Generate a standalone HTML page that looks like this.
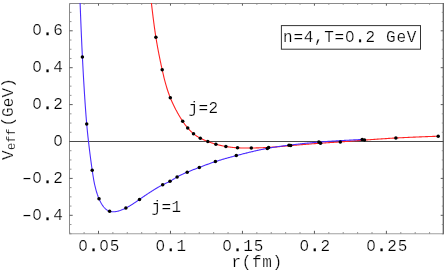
<!DOCTYPE html>
<html><head><meta charset="utf-8"><title>Veff plot</title>
<style>
html,body{margin:0;padding:0;background:#fff;}
body{width:444px;height:274px;overflow:hidden;position:relative;font-family:"Liberation Mono",monospace;}
</style></head><body>
<svg width="444" height="274" viewBox="0 0 444 274" style="position:absolute;left:0;top:0;will-change:transform">
<defs><filter id="g" x="0" y="0" width="444" height="274" filterUnits="userSpaceOnUse" color-interpolation-filters="sRGB"><feColorMatrix type="saturate" values="0"/></filter></defs>
<rect x="0" y="0" width="444" height="274" fill="#fff"/>
<path d="M69.5 233.8V3.5H443.3" stroke="#8a8a8a" stroke-width="1" fill="none"/>
<path d="M69.0 233.8H443.3" stroke="#a0a0a0" stroke-width="1.1" fill="none"/>
<path d="M443.3 3.0V234.3" stroke="#606060" stroke-width="1.3" fill="none"/>
<path d="M98.50 233.8v-3M98.50 3.5v2.2M170.48 233.8v-3M170.48 3.5v2.2M242.45 233.8v-3M242.45 3.5v2.2M314.43 233.8v-3M314.43 3.5v2.2M386.40 233.8v-3M386.40 3.5v2.2M69.5 215.30h3.2M443.3 215.30h-2.6M69.5 178.40h3.2M443.3 178.40h-2.6M69.5 141.50h3.2M443.3 141.50h-2.6M69.5 104.60h3.2M443.3 104.60h-2.6M69.5 67.70h3.2M443.3 67.70h-2.6M69.5 30.80h3.2M443.3 30.80h-2.6" stroke="#5a5a5a" stroke-width="1" fill="none"/>
<path d="M69.71 233.8v-1.8M69.71 3.5v1.3M84.10 233.8v-1.8M84.10 3.5v1.3M112.89 233.8v-1.8M112.89 3.5v1.3M127.29 233.8v-1.8M127.29 3.5v1.3M141.69 233.8v-1.8M141.69 3.5v1.3M156.08 233.8v-1.8M156.08 3.5v1.3M184.87 233.8v-1.8M184.87 3.5v1.3M199.26 233.8v-1.8M199.26 3.5v1.3M213.66 233.8v-1.8M213.66 3.5v1.3M228.06 233.8v-1.8M228.06 3.5v1.3M256.85 233.8v-1.8M256.85 3.5v1.3M271.24 233.8v-1.8M271.24 3.5v1.3M285.63 233.8v-1.8M285.63 3.5v1.3M300.03 233.8v-1.8M300.03 3.5v1.3M328.82 233.8v-1.8M328.82 3.5v1.3M343.21 233.8v-1.8M343.21 3.5v1.3M357.61 233.8v-1.8M357.61 3.5v1.3M372.00 233.8v-1.8M372.00 3.5v1.3M400.80 233.8v-1.8M400.80 3.5v1.3M415.19 233.8v-1.8M415.19 3.5v1.3M429.59 233.8v-1.8M429.59 3.5v1.3M69.5 233.75h2M443.3 233.75h-1.5M69.5 224.53h2M443.3 224.53h-1.5M69.5 206.07h2M443.3 206.07h-1.5M69.5 196.85h2M443.3 196.85h-1.5M69.5 187.62h2M443.3 187.62h-1.5M69.5 169.18h2M443.3 169.18h-1.5M69.5 159.95h2M443.3 159.95h-1.5M69.5 150.72h2M443.3 150.72h-1.5M69.5 132.28h2M443.3 132.28h-1.5M69.5 123.05h2M443.3 123.05h-1.5M69.5 113.82h2M443.3 113.82h-1.5M69.5 95.38h2M443.3 95.38h-1.5M69.5 86.15h2M443.3 86.15h-1.5M69.5 76.92h2M443.3 76.92h-1.5M69.5 58.47h2M443.3 58.47h-1.5M69.5 49.25h2M443.3 49.25h-1.5M69.5 40.02h2M443.3 40.02h-1.5M69.5 21.58h2M443.3 21.58h-1.5M69.5 12.35h2M443.3 12.35h-1.5" stroke="#8a8a8a" stroke-width="0.9" fill="none"/>
<path d="M69.5 141.5H443.3" stroke="#4a4a4a" stroke-width="1" fill="none"/>
<path d="M151.40 3.00 L151.50 3.83 L151.59 4.65 L151.69 5.48 L151.79 6.31 L151.89 7.14 L151.98 7.96 L152.08 8.79 L152.18 9.62 L152.28 10.45 L152.38 11.27 L152.48 12.10 L152.57 12.93 L152.67 13.75 L152.78 14.58 L152.88 15.41 L152.98 16.24 L153.08 17.06 L153.18 17.89 L153.29 18.72 L153.39 19.54 L153.50 20.37 L153.60 21.19 L153.71 22.02 L153.82 22.85 L153.93 23.67 L154.04 24.50 L154.15 25.33 L154.26 26.15 L154.37 26.98 L154.49 27.80 L154.60 28.63 L154.72 29.45 L154.84 30.28 L154.96 31.10 L155.08 31.93 L155.20 32.75 L155.32 33.58 L155.45 34.40 L155.57 35.22 L155.70 36.05 L155.83 36.87 L155.96 37.70 L156.10 38.52 L156.23 39.34 L156.37 40.17 L156.50 40.99 L156.64 41.81 L156.78 42.63 L156.93 43.45 L157.07 44.27 L157.21 45.09 L157.36 45.91 L157.51 46.73 L157.66 47.55 L157.81 48.37 L157.96 49.19 L158.11 50.00 L158.27 50.82 L158.42 51.63 L158.58 52.45 L158.74 53.26 L158.89 54.07 L159.05 54.88 L159.21 55.69 L159.38 56.50 L159.54 57.31 L159.70 58.12 L159.87 58.92 L160.03 59.72 L160.20 60.53 L160.37 61.33 L160.53 62.13 L160.70 62.93 L160.87 63.72 L161.04 64.52 L161.21 65.31 L161.39 66.11 L161.56 66.90 L161.73 67.69 L161.91 68.47 L162.08 69.26 L162.25 70.04 L162.43 70.82 L162.61 71.61 L162.78 72.38 L162.96 73.16 L163.14 73.94 L163.32 74.71 L163.50 75.48 L163.69 76.25 L163.87 77.03 L164.06 77.79 L164.25 78.56 L164.44 79.33 L164.64 80.10 L164.84 80.86 L165.04 81.62 L165.24 82.39 L165.45 83.15 L165.66 83.91 L165.88 84.68 L166.10 85.44 L166.32 86.20 L166.55 86.96 L166.78 87.72 L167.02 88.48 L167.26 89.24 L167.50 90.00 L167.75 90.76 L168.01 91.52 L168.27 92.28 L168.54 93.04 L168.81 93.80 L169.09 94.56 L169.37 95.32 L169.66 96.09 L169.96 96.85 L170.27 97.61 L170.58 98.38 L170.89 99.14 L171.22 99.91 L171.55 100.67 L171.88 101.43 L172.22 102.20 L172.57 102.96 L172.92 103.71 L173.27 104.47 L173.63 105.22 L173.99 105.97 L174.36 106.71 L174.72 107.45 L175.10 108.19 L175.47 108.91 L175.84 109.64 L176.22 110.35 L176.60 111.06 L176.98 111.77 L177.36 112.46 L177.74 113.15 L178.12 113.83 L178.51 114.50 L178.89 115.16 L179.27 115.81 L179.65 116.45 L180.02 117.08 L180.40 117.70 L180.78 118.31 L181.15 118.91 L181.52 119.49 L181.88 120.06 L182.25 120.62 L182.61 121.16 L182.96 121.69 L183.31 122.20 L183.66 122.71 L184.01 123.20 L184.36 123.68 L184.70 124.15 L185.05 124.61 L185.39 125.07 L185.74 125.52 L186.09 125.96 L186.44 126.40 L186.80 126.83 L187.16 127.27 L187.53 127.70 L187.90 128.13 L188.27 128.56 L188.66 128.99 L189.04 129.41 L189.44 129.84 L189.84 130.26 L190.24 130.68 L190.66 131.10 L191.07 131.51 L191.49 131.92 L191.92 132.32 L192.36 132.71 L192.80 133.10 L193.24 133.48 L193.69 133.86 L194.15 134.22 L194.61 134.58 L195.07 134.93 L195.54 135.27 L196.02 135.61 L196.50 135.94 L196.98 136.26 L197.47 136.57 L197.97 136.88 L198.46 137.17 L198.97 137.47 L199.47 137.75 L199.98 138.03 L200.49 138.30 L201.01 138.57 L201.53 138.83 L202.05 139.08 L202.58 139.33 L203.11 139.57 L203.64 139.81 L204.17 140.04 L204.71 140.27 L205.24 140.49 L205.78 140.71 L206.32 140.93 L206.87 141.14 L207.41 141.35 L207.95 141.56 L208.50 141.76 L209.04 141.96 L209.59 142.16 L210.14 142.36 L210.69 142.55 L211.24 142.74 L211.80 142.93 L212.36 143.11 L212.91 143.29 L213.48 143.47 L214.04 143.65 L214.61 143.82 L215.18 143.99 L215.75 144.16 L216.33 144.32 L216.91 144.48 L217.49 144.64 L218.08 144.80 L218.67 144.95 L219.26 145.10 L219.86 145.25 L220.45 145.39 L221.05 145.53 L221.66 145.66 L222.26 145.79 L222.87 145.92 L223.48 146.05 L224.09 146.17 L224.70 146.28 L225.32 146.40 L225.93 146.51 L226.55 146.61 L227.17 146.71 L227.79 146.81 L228.41 146.90 L229.04 146.99 L229.66 147.07 L230.29 147.15 L230.92 147.23 L231.55 147.30 L232.18 147.37 L232.82 147.43 L233.45 147.50 L234.09 147.55 L234.72 147.61 L235.36 147.66 L236.00 147.70 L236.65 147.75 L237.29 147.79 L237.93 147.82 L238.58 147.86 L239.23 147.89 L239.88 147.91 L240.53 147.94 L241.18 147.96 L241.84 147.98 L242.49 147.99 L243.15 148.00 L243.81 148.01 L244.47 148.02 L245.14 148.03 L245.80 148.03 L246.47 148.03 L247.14 148.03 L247.81 148.03 L248.48 148.03 L249.15 148.02 L249.83 148.02 L250.51 148.01 L251.19 148.00 L251.87 147.99 L252.55 147.98 L253.24 147.97 L253.92 147.96 L254.61 147.94 L255.30 147.93 L255.99 147.91 L256.69 147.90 L257.38 147.88 L258.08 147.86 L258.78 147.84 L259.48 147.82 L260.18 147.79 L260.88 147.77 L261.59 147.74 L262.29 147.71 L263.00 147.68 L263.71 147.65 L264.42 147.62 L265.13 147.59 L265.84 147.55 L266.55 147.52 L267.26 147.48 L267.98 147.44 L268.69 147.39 L269.41 147.35 L270.13 147.30 L270.84 147.26 L271.56 147.21 L272.28 147.16 L273.01 147.11 L273.73 147.05 L274.45 147.00 L275.18 146.94 L275.91 146.89 L276.64 146.83 L277.37 146.77 L278.11 146.71 L278.84 146.65 L279.58 146.58 L280.32 146.52 L281.07 146.46 L281.81 146.39 L282.56 146.33 L283.31 146.26 L284.07 146.19 L284.82 146.13 L285.59 146.06 L286.35 145.99 L287.12 145.92 L287.89 145.85 L288.66 145.78 L289.44 145.71 L290.22 145.64 L291.01 145.57 L291.79 145.50 L292.59 145.43 L293.38 145.36 L294.18 145.29 L294.98 145.22 L295.79 145.15 L296.59 145.08 L297.40 145.02 L298.21 144.95 L299.02 144.88 L299.84 144.81 L300.65 144.74 L301.47 144.67 L302.28 144.60 L303.10 144.54 L303.91 144.47 L304.73 144.40 L305.55 144.34 L306.36 144.27 L307.17 144.21 L307.99 144.14 L308.80 144.08 L309.61 144.01 L310.42 143.95 L311.22 143.89 L312.02 143.82 L312.82 143.76 L313.62 143.70 L314.42 143.64 L315.21 143.58 L316.00 143.52 L316.78 143.47 L317.56 143.41 L318.33 143.35 L319.11 143.30 L319.87 143.24 L320.63 143.19 L321.39 143.14 L322.14 143.09 L322.88 143.04 L323.63 142.99 L324.36 142.94 L325.10 142.89 L325.83 142.84 L326.55 142.79 L327.28 142.75 L328.00 142.70 L328.72 142.65 L329.44 142.61 L330.15 142.56 L330.87 142.52 L331.58 142.47 L332.29 142.43 L333.00 142.38 L333.72 142.33 L334.43 142.29 L335.14 142.24 L335.85 142.20 L336.57 142.15 L337.28 142.10 L338.00 142.06 L338.72 142.01 L339.44 141.96 L340.16 141.91 L340.89 141.86 L341.62 141.81 L342.35 141.76 L343.08 141.71 L343.82 141.65 L344.56 141.60 L345.30 141.55 L346.04 141.49 L346.79 141.44 L347.54 141.38 L348.29 141.33 L349.04 141.27 L349.80 141.22 L350.56 141.16 L351.32 141.10 L352.08 141.04 L352.84 140.99 L353.61 140.93 L354.37 140.87 L355.14 140.81 L355.91 140.75 L356.69 140.69 L357.46 140.64 L358.24 140.58 L359.01 140.52 L359.79 140.46 L360.57 140.40 L361.35 140.34 L362.13 140.28 L362.92 140.22 L363.70 140.16 L364.49 140.10 L365.27 140.04 L366.06 139.98 L366.85 139.92 L367.64 139.86 L368.43 139.81 L369.22 139.75 L370.02 139.69 L370.81 139.63 L371.61 139.57 L372.40 139.52 L373.20 139.46 L374.00 139.40 L374.80 139.34 L375.60 139.29 L376.41 139.23 L377.21 139.17 L378.02 139.12 L378.83 139.06 L379.64 139.01 L380.45 138.95 L381.26 138.90 L382.07 138.84 L382.89 138.79 L383.70 138.74 L384.52 138.68 L385.34 138.63 L386.16 138.58 L386.99 138.53 L387.81 138.47 L388.64 138.42 L389.47 138.37 L390.30 138.32 L391.13 138.27 L391.96 138.22 L392.80 138.17 L393.64 138.13 L394.48 138.08 L395.32 138.03 L396.16 137.99 L397.01 137.94 L397.86 137.89 L398.70 137.85 L399.56 137.81 L400.41 137.76 L401.26 137.72 L402.12 137.68 L402.98 137.63 L403.84 137.59 L404.70 137.55 L405.56 137.51 L406.43 137.47 L407.29 137.43 L408.16 137.39 L409.03 137.35 L409.90 137.31 L410.77 137.27 L411.64 137.23 L412.51 137.20 L413.39 137.16 L414.26 137.12 L415.14 137.08 L416.02 137.05 L416.90 137.01 L417.78 136.98 L418.66 136.94 L419.54 136.90 L420.43 136.87 L421.31 136.83 L422.19 136.80 L423.08 136.77 L423.96 136.73 L424.85 136.70 L425.74 136.66 L426.63 136.63 L427.51 136.60 L428.40 136.56 L429.29 136.53 L430.18 136.50 L431.07 136.46 L431.96 136.43 L432.85 136.40 L433.74 136.36 L434.63 136.33 L435.53 136.30 L436.42 136.27 L437.31 136.23 L438.20 136.20" stroke="#ff2222" stroke-width="1.1" fill="none"/>
<path d="M80.10 3.00 L80.13 3.84 L80.16 4.68 L80.20 5.52 L80.23 6.36 L80.26 7.19 L80.29 8.03 L80.33 8.87 L80.36 9.71 L80.39 10.56 L80.42 11.40 L80.46 12.24 L80.49 13.08 L80.52 13.93 L80.55 14.77 L80.59 15.61 L80.62 16.46 L80.65 17.31 L80.69 18.16 L80.72 19.01 L80.75 19.86 L80.79 20.71 L80.82 21.56 L80.86 22.42 L80.89 23.27 L80.93 24.13 L80.96 24.99 L81.00 25.85 L81.03 26.71 L81.07 27.58 L81.10 28.44 L81.14 29.31 L81.18 30.18 L81.21 31.05 L81.25 31.93 L81.29 32.80 L81.32 33.68 L81.36 34.56 L81.40 35.44 L81.44 36.33 L81.48 37.22 L81.52 38.11 L81.56 39.00 L81.60 39.90 L81.64 40.79 L81.68 41.70 L81.72 42.60 L81.76 43.51 L81.80 44.42 L81.84 45.33 L81.88 46.24 L81.93 47.16 L81.97 48.09 L82.01 49.01 L82.06 49.94 L82.10 50.87 L82.15 51.81 L82.19 52.75 L82.24 53.69 L82.29 54.64 L82.33 55.59 L82.38 56.54 L82.43 57.50 L82.48 58.46 L82.53 59.42 L82.58 60.39 L82.63 61.36 L82.68 62.34 L82.73 63.32 L82.78 64.30 L82.83 65.28 L82.89 66.26 L82.94 67.25 L82.99 68.24 L83.05 69.23 L83.10 70.22 L83.15 71.21 L83.21 72.21 L83.26 73.20 L83.32 74.19 L83.38 75.19 L83.43 76.19 L83.49 77.18 L83.55 78.18 L83.60 79.17 L83.66 80.17 L83.72 81.16 L83.78 82.15 L83.84 83.14 L83.90 84.13 L83.96 85.12 L84.02 86.11 L84.08 87.09 L84.14 88.08 L84.20 89.06 L84.26 90.04 L84.32 91.01 L84.38 91.98 L84.44 92.95 L84.50 93.92 L84.56 94.88 L84.63 95.84 L84.69 96.79 L84.75 97.75 L84.81 98.69 L84.87 99.63 L84.94 100.57 L85.00 101.50 L85.06 102.43 L85.13 103.35 L85.19 104.27 L85.25 105.18 L85.32 106.09 L85.38 106.98 L85.44 107.88 L85.51 108.76 L85.57 109.64 L85.63 110.52 L85.70 111.38 L85.76 112.24 L85.83 113.09 L85.89 113.94 L85.95 114.77 L86.02 115.60 L86.08 116.42 L86.15 117.23 L86.21 118.03 L86.27 118.83 L86.34 119.61 L86.40 120.39 L86.47 121.16 L86.53 121.91 L86.59 122.66 L86.66 123.40 L86.72 124.12 L86.78 124.84 L86.85 125.55 L86.91 126.25 L86.97 126.94 L87.04 127.62 L87.10 128.29 L87.16 128.96 L87.23 129.63 L87.29 130.29 L87.36 130.94 L87.42 131.59 L87.49 132.24 L87.55 132.88 L87.62 133.52 L87.69 134.16 L87.76 134.80 L87.82 135.45 L87.89 136.09 L87.96 136.73 L88.03 137.37 L88.11 138.02 L88.18 138.67 L88.25 139.32 L88.33 139.98 L88.40 140.64 L88.48 141.31 L88.56 141.98 L88.63 142.66 L88.71 143.34 L88.80 144.04 L88.88 144.73 L88.96 145.44 L89.04 146.14 L89.13 146.86 L89.22 147.57 L89.30 148.30 L89.39 149.02 L89.48 149.75 L89.57 150.49 L89.66 151.23 L89.76 151.97 L89.85 152.72 L89.94 153.47 L90.04 154.22 L90.14 154.97 L90.23 155.73 L90.33 156.49 L90.43 157.26 L90.53 158.02 L90.63 158.79 L90.73 159.56 L90.83 160.33 L90.94 161.10 L91.04 161.87 L91.14 162.64 L91.25 163.42 L91.35 164.19 L91.46 164.97 L91.57 165.74 L91.68 166.52 L91.79 167.29 L91.89 168.07 L92.00 168.84 L92.12 169.61 L92.23 170.39 L92.34 171.16 L92.45 171.93 L92.57 172.70 L92.68 173.46 L92.80 174.23 L92.92 174.99 L93.04 175.76 L93.16 176.52 L93.28 177.28 L93.41 178.03 L93.54 178.79 L93.67 179.54 L93.81 180.30 L93.95 181.05 L94.09 181.80 L94.24 182.54 L94.39 183.29 L94.55 184.03 L94.70 184.77 L94.87 185.50 L95.04 186.24 L95.21 186.97 L95.39 187.70 L95.57 188.43 L95.76 189.15 L95.96 189.87 L96.16 190.59 L96.37 191.31 L96.58 192.02 L96.80 192.73 L97.03 193.44 L97.26 194.14 L97.51 194.84 L97.76 195.54 L98.01 196.24 L98.28 196.93 L98.55 197.62 L98.83 198.30 L99.12 198.98 L99.42 199.66 L99.73 200.33 L100.04 200.99 L100.37 201.65 L100.70 202.30 L101.05 202.93 L101.40 203.56 L101.77 204.17 L102.14 204.77 L102.53 205.35 L102.92 205.92 L103.33 206.46 L103.75 206.99 L104.18 207.50 L104.62 207.98 L105.07 208.44 L105.54 208.88 L106.02 209.29 L106.51 209.68 L107.01 210.03 L107.53 210.36 L108.05 210.65 L108.60 210.91 L109.15 211.14 L109.72 211.34 L110.30 211.50 L110.90 211.62 L111.51 211.71 L112.12 211.77 L112.75 211.80 L113.39 211.80 L114.03 211.78 L114.68 211.72 L115.33 211.65 L116.00 211.54 L116.66 211.42 L117.33 211.27 L118.00 211.11 L118.66 210.92 L119.33 210.72 L120.00 210.51 L120.67 210.28 L121.33 210.03 L121.99 209.77 L122.64 209.51 L123.29 209.23 L123.93 208.94 L124.56 208.65 L125.18 208.36 L125.79 208.06 L126.39 207.75 L126.98 207.44 L127.56 207.14 L128.13 206.82 L128.69 206.51 L129.25 206.19 L129.80 205.87 L130.34 205.54 L130.88 205.21 L131.42 204.88 L131.95 204.55 L132.48 204.21 L133.00 203.86 L133.53 203.51 L134.06 203.16 L134.59 202.81 L135.12 202.44 L135.65 202.08 L136.19 201.71 L136.73 201.33 L137.27 200.95 L137.83 200.57 L138.38 200.18 L138.95 199.78 L139.53 199.38 L140.11 198.97 L140.71 198.56 L141.31 198.15 L141.92 197.73 L142.54 197.30 L143.16 196.88 L143.79 196.45 L144.42 196.01 L145.06 195.58 L145.71 195.15 L146.36 194.71 L147.01 194.28 L147.66 193.84 L148.32 193.41 L148.98 192.97 L149.64 192.54 L150.30 192.11 L150.96 191.69 L151.62 191.27 L152.28 190.85 L152.93 190.43 L153.59 190.02 L154.24 189.62 L154.89 189.22 L155.53 188.82 L156.17 188.44 L156.81 188.06 L157.44 187.69 L158.06 187.32 L158.68 186.97 L159.29 186.62 L159.89 186.29 L160.48 185.96 L161.07 185.65 L161.64 185.34 L162.21 185.05 L162.76 184.77 L163.30 184.50 L163.84 184.24 L164.36 184.00 L164.88 183.76 L165.38 183.52 L165.88 183.29 L166.37 183.07 L166.86 182.85 L167.34 182.62 L167.82 182.40 L168.29 182.17 L168.75 181.95 L169.22 181.71 L169.68 181.47 L170.14 181.22 L170.60 180.96 L171.07 180.70 L171.53 180.43 L171.99 180.15 L172.45 179.86 L172.91 179.57 L173.38 179.28 L173.84 178.99 L174.31 178.69 L174.79 178.40 L175.26 178.10 L175.75 177.80 L176.23 177.51 L176.72 177.22 L177.22 176.93 L177.72 176.65 L178.23 176.37 L178.74 176.10 L179.25 175.83 L179.78 175.56 L180.30 175.30 L180.83 175.04 L181.36 174.78 L181.90 174.53 L182.44 174.27 L182.99 174.03 L183.53 173.78 L184.08 173.54 L184.63 173.29 L185.19 173.05 L185.74 172.82 L186.30 172.58 L186.85 172.34 L187.41 172.11 L187.97 171.88 L188.53 171.65 L189.09 171.42 L189.65 171.19 L190.22 170.96 L190.78 170.73 L191.35 170.50 L191.91 170.28 L192.48 170.05 L193.05 169.82 L193.62 169.60 L194.20 169.37 L194.77 169.15 L195.35 168.92 L195.93 168.70 L196.51 168.47 L197.09 168.25 L197.68 168.02 L198.27 167.80 L198.86 167.57 L199.45 167.34 L200.04 167.12 L200.64 166.89 L201.24 166.66 L201.85 166.43 L202.45 166.20 L203.06 165.98 L203.67 165.75 L204.28 165.52 L204.89 165.29 L205.51 165.06 L206.13 164.83 L206.75 164.61 L207.37 164.38 L207.99 164.16 L208.62 163.93 L209.25 163.71 L209.88 163.48 L210.51 163.26 L211.14 163.04 L211.77 162.82 L212.41 162.60 L213.04 162.39 L213.68 162.17 L214.32 161.96 L214.96 161.75 L215.60 161.54 L216.24 161.33 L216.88 161.12 L217.53 160.92 L218.17 160.71 L218.82 160.51 L219.47 160.31 L220.12 160.11 L220.77 159.91 L221.42 159.72 L222.08 159.52 L222.74 159.33 L223.40 159.13 L224.06 158.94 L224.73 158.75 L225.39 158.56 L226.06 158.37 L226.74 158.18 L227.41 157.99 L228.09 157.80 L228.77 157.61 L229.45 157.43 L230.14 157.24 L230.83 157.05 L231.53 156.86 L232.22 156.68 L232.93 156.49 L233.63 156.30 L234.34 156.12 L235.05 155.93 L235.77 155.74 L236.49 155.55 L237.21 155.36 L237.94 155.17 L238.67 154.98 L239.41 154.79 L240.15 154.60 L240.89 154.41 L241.64 154.22 L242.38 154.03 L243.13 153.84 L243.89 153.65 L244.64 153.46 L245.40 153.27 L246.16 153.09 L246.92 152.90 L247.68 152.71 L248.44 152.53 L249.20 152.34 L249.97 152.16 L250.73 151.98 L251.50 151.79 L252.26 151.61 L253.02 151.43 L253.79 151.26 L254.55 151.08 L255.32 150.91 L256.08 150.73 L256.84 150.56 L257.60 150.39 L258.36 150.23 L259.11 150.06 L259.87 149.90 L260.62 149.74 L261.37 149.58 L262.12 149.42 L262.86 149.27 L263.60 149.12 L264.34 148.97 L265.08 148.83 L265.81 148.68 L266.54 148.54 L267.26 148.41 L267.98 148.27 L268.70 148.14 L269.41 148.01 L270.12 147.89 L270.83 147.77 L271.53 147.65 L272.23 147.53 L272.93 147.42 L273.62 147.30 L274.31 147.19 L275.01 147.09 L275.70 146.98 L276.38 146.88 L277.07 146.77 L277.76 146.67 L278.44 146.57 L279.13 146.48 L279.81 146.38 L280.50 146.29 L281.18 146.19 L281.86 146.10 L282.55 146.01 L283.24 145.92 L283.92 145.83 L284.61 145.74 L285.30 145.66 L286.00 145.57 L286.69 145.48 L287.39 145.40 L288.09 145.31 L288.79 145.23 L289.49 145.14 L290.20 145.06 L290.91 144.97 L291.62 144.88 L292.34 144.80 L293.06 144.72 L293.78 144.63 L294.50 144.55 L295.23 144.46 L295.96 144.38 L296.70 144.30 L297.43 144.21 L298.17 144.13 L298.91 144.05 L299.65 143.96 L300.40 143.88 L301.15 143.80 L301.90 143.72 L302.65 143.64 L303.41 143.56 L304.17 143.48 L304.93 143.40 L305.69 143.32 L306.46 143.25 L307.22 143.17 L307.99 143.09 L308.76 143.02 L309.54 142.94 L310.32 142.87 L311.09 142.79 L311.87 142.72 L312.66 142.64 L313.44 142.57 L314.23 142.50 L315.02 142.43 L315.81 142.36 L316.60 142.29 L317.40 142.23 L318.19 142.16 L318.99 142.09 L319.79 142.03 L320.59 141.96 L321.40 141.90 L322.20 141.84 L323.01 141.78 L323.82 141.71 L324.63 141.65 L325.44 141.60 L326.26 141.54 L327.07 141.48 L327.89 141.42 L328.71 141.37 L329.52 141.31 L330.35 141.25 L331.17 141.20 L331.99 141.15 L332.82 141.09 L333.64 141.04 L334.47 140.99 L335.30 140.94 L336.13 140.89 L336.96 140.84 L337.79 140.79 L338.62 140.74 L339.45 140.69 L340.29 140.64 L341.12 140.59 L341.96 140.55 L342.80 140.50 L343.63 140.45 L344.47 140.41 L345.31 140.36 L346.15 140.32 L346.99 140.27 L347.83 140.23 L348.68 140.18 L349.52 140.14 L350.36 140.10 L351.21 140.05 L352.05 140.01 L352.89 139.97 L353.74 139.92 L354.58 139.88 L355.43 139.84 L356.28 139.79 L357.12 139.75 L357.97 139.71 L358.81 139.67 L359.66 139.63 L360.51 139.58 L361.35 139.54 L362.20 139.50" stroke="#4a2cff" stroke-width="1.1" fill="none"/>
<circle cx="155.9" cy="37.3" r="1.75" fill="#000"/>
<circle cx="162.2" cy="69.8" r="1.75" fill="#000"/>
<circle cx="170.3" cy="97.7" r="1.75" fill="#000"/>
<circle cx="182.7" cy="121.3" r="1.75" fill="#000"/>
<circle cx="187.7" cy="127.9" r="1.75" fill="#000"/>
<circle cx="193.5" cy="133.7" r="1.75" fill="#000"/>
<circle cx="200.3" cy="138.2" r="1.75" fill="#000"/>
<circle cx="207.8" cy="141.5" r="1.75" fill="#000"/>
<circle cx="215.9" cy="144.2" r="1.75" fill="#000"/>
<circle cx="225.9" cy="146.5" r="1.75" fill="#000"/>
<circle cx="237.5" cy="147.8" r="1.75" fill="#000"/>
<circle cx="251.3" cy="148" r="1.75" fill="#000"/>
<circle cx="268.6" cy="147.4" r="1.75" fill="#000"/>
<circle cx="290.7" cy="145.6" r="1.75" fill="#000"/>
<circle cx="320.5" cy="143.2" r="1.75" fill="#000"/>
<circle cx="340.3" cy="141.9" r="1.75" fill="#000"/>
<circle cx="364.5" cy="140.1" r="1.75" fill="#000"/>
<circle cx="395.9" cy="138" r="1.75" fill="#000"/>
<circle cx="438.2" cy="136.2" r="1.75" fill="#000"/>
<circle cx="82.4" cy="56.9" r="1.75" fill="#000"/>
<circle cx="86.7" cy="123.9" r="1.75" fill="#000"/>
<circle cx="92.2" cy="170.2" r="1.75" fill="#000"/>
<circle cx="99" cy="198.7" r="1.75" fill="#000"/>
<circle cx="109.6" cy="211.3" r="1.75" fill="#000"/>
<circle cx="125.9" cy="208" r="1.75" fill="#000"/>
<circle cx="139.5" cy="199.4" r="1.75" fill="#000"/>
<circle cx="162.7" cy="184.8" r="1.75" fill="#000"/>
<circle cx="170" cy="181.3" r="1.75" fill="#000"/>
<circle cx="177.1" cy="177" r="1.75" fill="#000"/>
<circle cx="187.2" cy="172.2" r="1.75" fill="#000"/>
<circle cx="199.3" cy="167.4" r="1.75" fill="#000"/>
<circle cx="215.4" cy="161.6" r="1.75" fill="#000"/>
<circle cx="236.3" cy="155.6" r="1.75" fill="#000"/>
<circle cx="267.3" cy="148.4" r="1.75" fill="#000"/>
<circle cx="289" cy="145.2" r="1.75" fill="#000"/>
<circle cx="318.9" cy="142.1" r="1.75" fill="#000"/>
<circle cx="362.2" cy="139.5" r="1.75" fill="#000"/>
<rect x="281.4" y="25.6" width="139.1" height="23.6" fill="#fff" stroke="#333" stroke-width="1"/>
<g style="font-family:'Liberation Mono',monospace;font-size:16.0px;fill:#000;stroke:#fff;stroke-width:0.22px" filter="url(#g)">
<text x="283.10 293.40 303.70 314.00 324.30 334.60 344.90 355.20 365.50 375.80 386.10 396.40 406.70" y="42.00" style="white-space:pre">n=4,T=0<tspan style="stroke:#000;stroke-width:0.35px">.</tspan>2 GeV</text>
<text x="188.50 198.50 208.50" y="112.60" style="white-space:pre">j=2</text>
<text x="151.40 161.40 171.40" y="211.60" style="white-space:pre">j=1</text>
<text x="32.20 42.70 53.20" y="34.70" style="white-space:pre">0<tspan style="stroke:#000;stroke-width:0.35px">.</tspan>6</text>
<text x="32.20 42.70 53.20" y="72.40" style="white-space:pre">0<tspan style="stroke:#000;stroke-width:0.35px">.</tspan>4</text>
<text x="32.20 42.70 53.20" y="109.30" style="white-space:pre">0<tspan style="stroke:#000;stroke-width:0.35px">.</tspan>2</text>
<text x="53.20" y="146.20" style="white-space:pre">0</text>
<text transform="translate(19.10,183.10) scale(1.65,1)" x="0" y="0">-</text><text x="32.20 42.70 53.20" y="183.10" style="white-space:pre">0<tspan style="stroke:#000;stroke-width:0.35px">.</tspan>2</text>
<text transform="translate(19.10,220.00) scale(1.65,1)" x="0" y="0">-</text><text x="32.20 42.70 53.20" y="220.00" style="white-space:pre">0<tspan style="stroke:#000;stroke-width:0.35px">.</tspan>4</text>
<text x="78.25 88.75 99.25 109.75" y="250.80" style="white-space:pre">0<tspan style="stroke:#000;stroke-width:0.35px">.</tspan>05</text>
<text x="155.48 165.98 176.48" y="250.80" style="white-space:pre">0<tspan style="stroke:#000;stroke-width:0.35px">.</tspan>1</text>
<text x="222.20 232.70 243.20 253.70" y="250.80" style="white-space:pre">0<tspan style="stroke:#000;stroke-width:0.35px">.</tspan>15</text>
<text x="299.43 309.93 320.43" y="250.80" style="white-space:pre">0<tspan style="stroke:#000;stroke-width:0.35px">.</tspan>2</text>
<text x="366.15 376.65 387.15 397.65" y="250.80" style="white-space:pre">0<tspan style="stroke:#000;stroke-width:0.35px">.</tspan>25</text>
<text x="231.60 241.80 252.00 262.20 272.40" y="266.60" style="white-space:pre">r(fm)</text>
<text transform="translate(12.6,160) rotate(-90)" style="letter-spacing:0.4px">V<tspan dy="2.8" style="font-size:12px;letter-spacing:0.1px">eff</tspan><tspan dy="-2.8" dx="1.5" style="letter-spacing:0.1px">(GeV)</tspan></text>
</g>
<ellipse cx="349.69" cy="36.40" rx="1.50" ry="2.00" fill="#fff"/>
<ellipse cx="36.99" cy="29.10" rx="1.50" ry="2.00" fill="#fff"/>
<ellipse cx="36.99" cy="66.80" rx="1.50" ry="2.00" fill="#fff"/>
<ellipse cx="36.99" cy="103.70" rx="1.50" ry="2.00" fill="#fff"/>
<ellipse cx="57.99" cy="140.60" rx="1.50" ry="2.00" fill="#fff"/>
<ellipse cx="36.99" cy="177.50" rx="1.50" ry="2.00" fill="#fff"/>
<ellipse cx="36.99" cy="214.40" rx="1.50" ry="2.00" fill="#fff"/>
<ellipse cx="83.04" cy="245.20" rx="1.50" ry="2.00" fill="#fff"/>
<ellipse cx="104.04" cy="245.20" rx="1.50" ry="2.00" fill="#fff"/>
<ellipse cx="160.27" cy="245.20" rx="1.50" ry="2.00" fill="#fff"/>
<ellipse cx="226.99" cy="245.20" rx="1.50" ry="2.00" fill="#fff"/>
<ellipse cx="304.22" cy="245.20" rx="1.50" ry="2.00" fill="#fff"/>
<ellipse cx="370.94" cy="245.20" rx="1.50" ry="2.00" fill="#fff"/>
</svg>
</body></html>
